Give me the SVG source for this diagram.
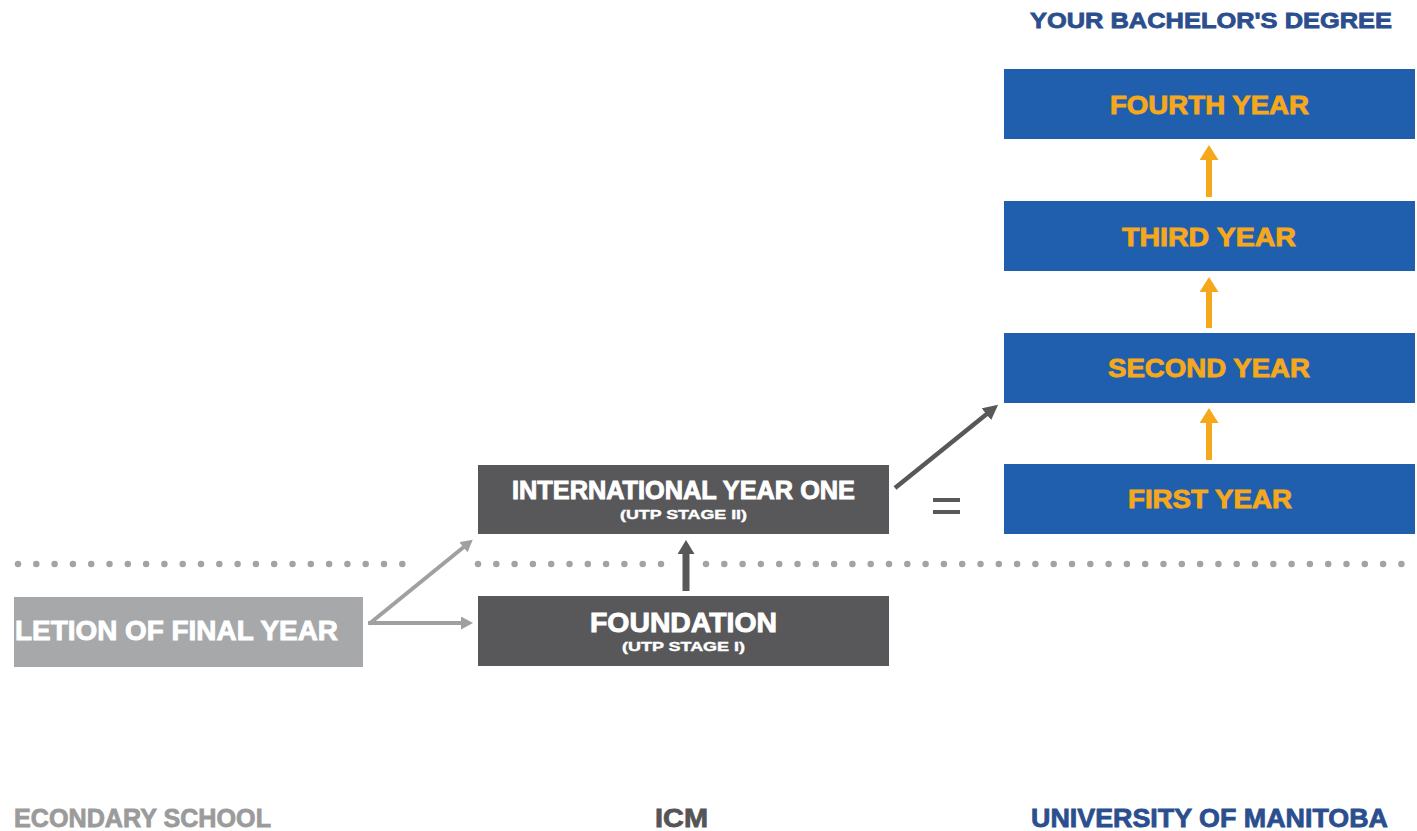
<svg xmlns="http://www.w3.org/2000/svg" width="1417" height="831" viewBox="0 0 1417 831">
  <style>
    text { font-family: "Liberation Sans", Arial, sans-serif; font-weight: bold; }
    .blue-box { fill: #1f5fae; }
    .dark-box { fill: #58585a; }
    .light-box { fill: #a7a8aa; }
    .year { fill: #f6a81c; font-size: 26px; stroke: #f6a81c; stroke-width: 0.9; }
    .white { fill: #ffffff; stroke: #ffffff; stroke-width: 0.9; }
    .big { font-size: 25px; }
    .sub { font-size: 13px; stroke-width: 0.4; }
    .label { font-size: 26px; }
    .navy { fill: #2b4e8e; stroke: #2b4e8e; stroke-width: 0.8; }
    .dots { stroke: #a3a3a3; stroke-width: 6.5; stroke-linecap: round; stroke-dasharray: 0 18.3; fill: none; }
    .orange-arrow { stroke: #f6a81c; stroke-width: 6; marker-end: url(#head-orange); }
    .dark-arrow { stroke: #58585a; stroke-width: 7; marker-end: url(#head-dark); }
    .diag-arrow { stroke: #58585a; stroke-width: 4.5; marker-end: url(#head-dark-small); }
    .gray-arrow { stroke: #a0a0a0; stroke-width: 4; fill: none; marker-end: url(#head-gray); }
  </style>
  <defs>
    <marker id="head-orange" markerUnits="userSpaceOnUse" viewBox="0 0 15 19" markerWidth="15" markerHeight="19" refX="2" refY="9.5" orient="auto">
      <path d="M0,0 L15,9.5 L0,19 z" fill="#f6a81c"/>
    </marker>
    <marker id="head-dark" markerUnits="userSpaceOnUse" viewBox="0 0 14 17" markerWidth="14" markerHeight="17" refX="2" refY="8.5" orient="auto">
      <path d="M0,0 L14,8.5 L0,17 z" fill="#58585a"/>
    </marker>
    <marker id="head-dark-small" markerUnits="userSpaceOnUse" viewBox="0 0 15 15" markerWidth="15" markerHeight="15" refX="2" refY="7.5" orient="auto">
      <path d="M0,0 L15,7.5 L0,15 z" fill="#58585a"/>
    </marker>
    <marker id="head-gray" markerUnits="userSpaceOnUse" viewBox="0 0 12 13" markerWidth="12" markerHeight="13" refX="2" refY="6.5" orient="auto">
      <path d="M0,0 L12,6.5 L0,13 z" fill="#a0a0a0"/>
    </marker>
  </defs>

  <rect width="1417" height="831" fill="#ffffff"/>

  <!-- dotted divider -->
  <g id="divider">
    <line class="dots" x1="18" y1="564" x2="404" y2="564"/>
    <line class="dots" x1="478" y1="564" x2="662" y2="564"/>
    <line class="dots" x1="706" y1="564" x2="1417" y2="564"/>
  </g>

  <!-- headings / column labels -->
  <g id="heading">
    <text class="navy" x="1030" y="28" font-size="22" textLength="362" lengthAdjust="spacingAndGlyphs">YOUR BACHELOR'S DEGREE</text>
  </g>
  <g id="col-secondary">
    <text x="14" y="827" class="label" fill="#9b9b9b" stroke="#9b9b9b" stroke-width="0.8" textLength="257" lengthAdjust="spacingAndGlyphs">ECONDARY SCHOOL</text>
  </g>
  <g id="col-icm">
    <text x="655" y="827" class="label" fill="#555557" stroke="#555557" stroke-width="0.8" textLength="53" lengthAdjust="spacingAndGlyphs">ICM</text>
  </g>
  <g id="col-manitoba">
    <text x="1031" y="827" class="label navy" textLength="357" lengthAdjust="spacingAndGlyphs">UNIVERSITY OF MANITOBA</text>
  </g>

  <!-- university years -->
  <g id="fourth-year">
    <rect class="blue-box" x="1004" y="69" width="411" height="70"/>
    <text class="year" x="1110" y="114" textLength="199" lengthAdjust="spacingAndGlyphs">FOURTH YEAR</text>
  </g>
  <g id="third-year">
    <rect class="blue-box" x="1004" y="201" width="411" height="70"/>
    <text class="year" x="1122" y="246" textLength="174" lengthAdjust="spacingAndGlyphs">THIRD YEAR</text>
  </g>
  <g id="second-year">
    <rect class="blue-box" x="1004" y="333" width="411" height="70"/>
    <text class="year" x="1108" y="377" textLength="202" lengthAdjust="spacingAndGlyphs">SECOND YEAR</text>
  </g>
  <g id="first-year">
    <rect class="blue-box" x="1004" y="464" width="411" height="70"/>
    <text class="year" x="1128" y="508" textLength="164" lengthAdjust="spacingAndGlyphs">FIRST YEAR</text>
  </g>

  <!-- ICM programmes -->
  <g id="international-year-one">
    <rect class="dark-box" x="478" y="465" width="411" height="69"/>
    <text class="white big" x="512" y="499" textLength="343" lengthAdjust="spacingAndGlyphs">INTERNATIONAL YEAR ONE</text>
    <text class="white sub" x="620" y="519" textLength="127" lengthAdjust="spacingAndGlyphs">(UTP STAGE II)</text>
  </g>
  <g id="foundation">
    <rect class="dark-box" x="478" y="596" width="411" height="70"/>
    <text class="white" font-size="27" x="590" y="632" textLength="187" lengthAdjust="spacingAndGlyphs">FOUNDATION</text>
    <text class="white sub" x="622" y="651" textLength="123" lengthAdjust="spacingAndGlyphs">(UTP STAGE I)</text>
  </g>

  <!-- secondary school -->
  <g id="final-year">
    <rect class="light-box" x="14" y="597" width="349" height="70"/>
    <text class="white" font-size="27" x="15" y="640" textLength="323" lengthAdjust="spacingAndGlyphs">LETION OF FINAL YEAR</text>
  </g>

  <!-- equals sign -->
  <g id="equals" fill="#58585a">
    <rect x="933" y="498" width="27" height="4"/>
    <rect x="933" y="510" width="27" height="4"/>
  </g>

  <!-- connectors -->
  <g id="connectors">
    <line class="orange-arrow" x1="1209" y1="197" x2="1209" y2="158"/>
    <line class="orange-arrow" x1="1209" y1="328" x2="1209" y2="290"/>
    <line class="orange-arrow" x1="1209" y1="460" x2="1209" y2="421"/>
    <line class="dark-arrow" x1="686" y1="591" x2="686" y2="552"/>
    <line class="diag-arrow" x1="895" y1="488" x2="988" y2="413"/>
    <line class="gray-arrow" x1="369" y1="624" x2="465" y2="546"/>
    <line class="gray-arrow" x1="368" y1="623" x2="463" y2="623"/>
  </g>
</svg>
